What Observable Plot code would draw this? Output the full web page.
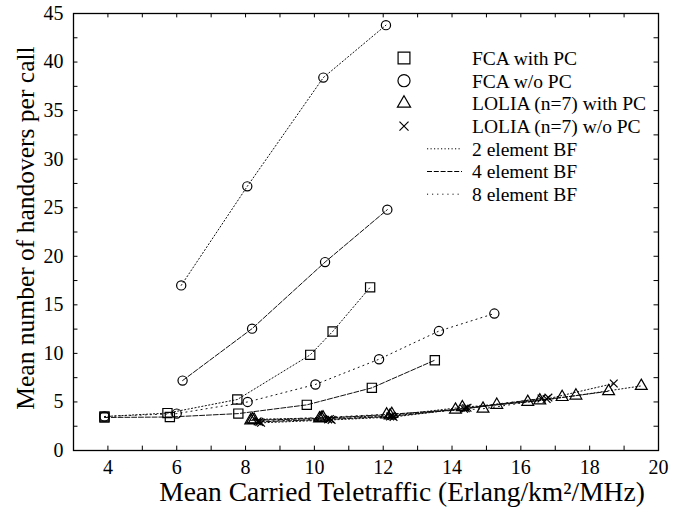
<!DOCTYPE html>
<html>
<head>
<meta charset="utf-8">
<script src="https://cdn.jsdelivr.net/npm/d3@7"></script>
<script src="https://cdn.jsdelivr.net/npm/@observablehq/plot@0.6"></script>
<style>
  html, body { margin: 0; padding: 0; background: #fff; }
  #chart { width: 679px; height: 508px; }
  #chart svg text { font-family: 'Liberation Serif', 'Times New Roman', serif; }
</style>
</head>
<body>
<div id="chart"></div>
<script>
// Axis ticks
const xTicks = [4, 6, 8, 10, 12, 14, 16, 18, 20];
const yTicks = [0, 5, 10, 15, 20, 25, 30, 35, 40, 45];
const xMinor = [4, 5, 6, 7, 8, 9, 10, 11, 12, 13, 14, 15, 16, 17, 18, 19];
const yMinor = [2.5, 5, 7.5, 10, 12.5, 15, 17.5, 20, 22.5, 25, 27.5, 30, 32.5, 35, 37.5, 40, 42.5];

// FCA with power control
const fcaPc2X = [3.9, 5.73, 7.76, 9.88, 10.53, 11.62];
const fcaPc2Y = [3.5, 3.85, 5.25, 9.85, 12.25, 16.8];
const fcaPc4X = [3.9, 5.8, 7.79, 9.78, 11.67, 13.5];
const fcaPc4Y = [3.4, 3.45, 3.8, 4.7, 6.45, 9.3];

// FCA without power control
const fcaNoPc2X = [6.13, 8.05, 10.26, 12.08];
const fcaNoPc2Y = [17.0, 27.2, 38.4, 43.8];
const fcaNoPc4X = [6.17, 8.19, 10.31, 12.12];
const fcaNoPc4Y = [7.2, 12.55, 19.4, 24.8];
const fcaNoPc8X = [3.9, 6.0, 8.06, 10.03, 11.88, 13.62, 15.23];
const fcaNoPc8Y = [3.5, 3.8, 5.0, 6.8, 9.4, 12.3, 14.1];

// LOLIA (n=7) with power control
const loliaPc2X = [8.2, 10.2, 12.2, 14.3, 16.2, 17.6, 19.5];
const loliaPc2Y = [3.2, 3.35, 3.6, 4.45, 5.0, 5.65, 6.65];
const loliaPc4X = [8.15, 10.15, 12.1, 14.1, 15.3, 16.55, 18.55];
const loliaPc4Y = [3.1, 3.3, 3.7, 4.2, 4.7, 5.15, 6.1];
const loliaPc8X = [8.25, 10.25, 12.25, 14.9, 17.2];
const loliaPc8Y = [3.15, 3.4, 3.75, 4.3, 5.5];

// LOLIA (n=7) without power control
const loliaNoPc2X = [8.45, 10.5, 12.3, 14.4, 16.75, 18.7];
const loliaNoPc2Y = [2.85, 3.15, 3.45, 4.35, 5.3, 6.9];
const loliaNoPc4X = [8.4, 10.4, 12.2, 14.35, 16.6];
const loliaNoPc4Y = [2.95, 3.2, 3.5, 4.3, 5.35];
const loliaNoPc8X = [8.35, 10.45, 12.25, 14.45, 16.8];
const loliaNoPc8Y = [3.0, 3.25, 3.55, 4.4, 5.45];

const schemes = ["FCA with PC", "FCA w/o PC", "LOLIA (n=7) with PC", "LOLIA (n=7) w/o PC"];
const beamformers = ["2 element BF", "4 element BF", "8 element BF"];

const seriesList = [
  {scheme: schemes[0], bf: 2, xs: fcaPc2X, ys: fcaPc2Y},
  {scheme: schemes[0], bf: 4, xs: fcaPc4X, ys: fcaPc4Y},
  {scheme: schemes[1], bf: 2, xs: fcaNoPc2X, ys: fcaNoPc2Y},
  {scheme: schemes[1], bf: 4, xs: fcaNoPc4X, ys: fcaNoPc4Y},
  {scheme: schemes[1], bf: 8, xs: fcaNoPc8X, ys: fcaNoPc8Y},
  {scheme: schemes[2], bf: 2, xs: loliaPc2X, ys: loliaPc2Y},
  {scheme: schemes[2], bf: 4, xs: loliaPc4X, ys: loliaPc4Y},
  {scheme: schemes[2], bf: 8, xs: loliaPc8X, ys: loliaPc8Y},
  {scheme: schemes[3], bf: 2, xs: loliaNoPc2X, ys: loliaNoPc2Y},
  {scheme: schemes[3], bf: 4, xs: loliaNoPc4X, ys: loliaNoPc4Y},
  {scheme: schemes[3], bf: 8, xs: loliaNoPc8X, ys: loliaNoPc8Y}
];

const rows = seriesList.flatMap(s =>
  s.xs.map((x, i) => ({series: s.scheme + " " + s.bf, scheme: s.scheme, bf: s.bf, x, y: s.ys[i]}))
);

// line styles per beamformer size, marker per scheme
const dashes = {2: "1.2,2.3", 4: "5,1.8", 8: "1.1,4"};
const symbols = {
  [schemes[0]]: {symbol: "square", r: 5.2},
  [schemes[1]]: {symbol: "circle", r: 4.6},
  [schemes[2]]: {symbol: "triangle", r: 4.4},
  [schemes[3]]: {symbol: "times", r: 3.6}
};

const serif = "'Liberation Serif', 'Times New Roman', serif";

const chart = Plot.plot({
  width: 679,
  height: 508,
  marginLeft: 73,
  marginRight: 21,
  marginTop: 13,
  marginBottom: 58,
  style: {fontFamily: serif, fontSize: "20px", background: "#fff", color: "#000"},
  x: {domain: [3, 20]},
  y: {domain: [0, 45]},
  marks: [
    // inward ticks on all four sides
    Plot.ruleX(xMinor, {x: d => d, y1: 0, y2: 0.45, stroke: "#000"}),
    Plot.ruleX(xMinor, {x: d => d, y1: 45, y2: 44.55, stroke: "#000"}),
    Plot.ruleY(yMinor, {y: d => d, x1: 3, x2: 3.13, stroke: "#000"}),
    Plot.ruleY(yMinor, {y: d => d, x1: 20, x2: 19.87, stroke: "#000"}),
    Plot.axisX({ticks: xTicks, tickSize: 0, tickPadding: 9, label: null, fontSize: 20}),
    Plot.axisY({ticks: yTicks, tickSize: 0, tickPadding: 10, label: null, fontSize: 20}),
    ...[2, 4, 8].map(bf =>
      Plot.line(rows.filter(d => d.bf === bf), {
        x: "x", y: "y", z: "series", stroke: "#111", strokeWidth: 1,
        strokeDasharray: dashes[bf]
      })
    ),
    ...schemes.map(s =>
      Plot.dot(rows.filter(d => d.scheme === s), {
        x: "x", y: "y", symbol: () => symbols[s].symbol, r: symbols[s].r,
        stroke: "#000", strokeWidth: 1.2, fill: "none"
      })
    ),
    Plot.frame({stroke: "#000", strokeWidth: 1.3}),
    Plot.text(["Mean Carried Teletraffic (Erlang/km²/MHz)"], {
      frameAnchor: "bottom", textAnchor: "middle", lineAnchor: "middle",
      dx: 36, dy: 42, fontSize: 27.5, fill: "#000"
    }),
    Plot.text(["Mean number of handovers per call"], {
      frameAnchor: "left", textAnchor: "middle", lineAnchor: "middle",
      rotate: -90, dx: -48, dy: -4, fontSize: 25.5, fill: "#000"
    })
  ]
});

document.getElementById("chart").appendChild(chart);

// Legend in the upper right of the plot area
const svg = d3.select(chart);
const lg = svg.append("g")
  .attr("font-family", serif).attr("font-size", 19.5)
  .attr("fill", "#000").attr("text-anchor", "start");
const rowH = 22.7, top0 = 58, symX = 404, lineX0 = 427, lineX1 = 462, textX = 472;
const legendSym = [
  {type: d3.symbolSquare, size: 140},
  {type: d3.symbolCircle, size: 115},
  {type: d3.symbolTriangle, size: 75},
  {type: d3.symbolTimes, size: 55}
];
schemes.forEach((s, i) => {
  const y = top0 + i * rowH;
  lg.append("path")
    .attr("d", d3.symbol(legendSym[i].type, legendSym[i].size)())
    .attr("transform", `translate(${symX},${y})`)
    .attr("fill", "none").attr("stroke", "#000").attr("stroke-width", 1.2);
  lg.append("text").attr("x", textX).attr("y", y).attr("dy", "0.35em")
    .attr("text-anchor", "start").text(s);
});
beamformers.forEach((b, j) => {
  const y = top0 + (schemes.length + j) * rowH;
  lg.append("line").attr("x1", lineX0).attr("x2", lineX1).attr("y1", y).attr("y2", y)
    .attr("stroke", "#000").attr("stroke-width", 1).attr("stroke-dasharray", dashes[[2, 4, 8][j]]);
  lg.append("text").attr("x", textX).attr("y", y).attr("dy", "0.35em")
    .attr("text-anchor", "start").text(b);
});
</script>
</body>
</html>
